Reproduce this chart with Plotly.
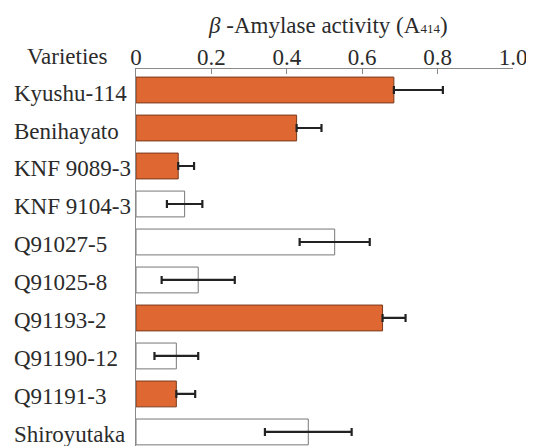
import plotly.graph_objects as go

varieties = ["Kyushu-114", "Benihayato", "KNF 9089-3", "KNF 9104-3", "Q91027-5",
             "Q91025-8", "Q91193-2", "Q91190-12", "Q91191-3", "Shiroyutaka"]
activity = [0.684, 0.426, 0.112, 0.129, 0.527, 0.165, 0.654, 0.107, 0.107, 0.457]
error = [0.130, 0.066, 0.042, 0.047, 0.093, 0.097, 0.061, 0.058, 0.050, 0.115]
filled = [True, True, True, False, False, False, True, False, True, False]
tick_vals = [0, 0.2, 0.4, 0.6, 0.8, 1.0]
tick_text = ["0", "0.2", "0.4", "0.6", "0.8", "1.0"]

ORANGE = "#DF6732"
FONT = "Times New Roman, Liberation Serif, DejaVu Serif, serif"
TXT = "#2b2b2b"

colors = [ORANGE if f else "white" for f in filled]
lines = ["#7a3a1c" if f else "#777777" for f in filled]
err_minus = [0 if f else e for f, e in zip(filled, error)]

fig = go.Figure()
fig.add_trace(go.Bar(
    x=activity, y=varieties, orientation="h", width=0.68,
    marker=dict(color=colors, line=dict(color=lines, width=1)),
    error_x=dict(type="data", array=error, arrayminus=err_minus, symmetric=False,
                 color="#222222", thickness=2.2, width=4),
    showlegend=False,
))

ann = []
for v in varieties:
    ann.append(dict(x=-0.329, xref="paper", y=v, yref="y", text=v, showarrow=False,
                    xanchor="left", yanchor="middle", yshift=-3,
                    font=dict(family=FONT, size=23, color=TXT)))
ann.append(dict(x=-0.295, xref="paper", y=1.0, yref="paper", yshift=13,
                text="Varieties", showarrow=False, xanchor="left", yanchor="middle",
                font=dict(family=FONT, size=23, color=TXT)))
ann.append(dict(x=0.508, xref="paper", y=1.0, yref="paper", yshift=44,
                text="<i>β</i> -Amylase activity (A<span style='font-size:13px'>414</span>)",
                showarrow=False, xanchor="center", yanchor="middle",
                font=dict(family=FONT, size=23, color=TXT)))

fig.update_layout(
    width=534, height=446,
    margin=dict(l=128, r=29, t=61, b=8, autoexpand=False),
    paper_bgcolor="white", plot_bgcolor="white",
    font=dict(family=FONT, size=22, color=TXT),
    annotations=ann,
    xaxis=dict(side="top", range=[0, 1.0], tickvals=tick_vals, ticktext=tick_text,
               showline=True, linecolor="#8a8a8a", linewidth=1,
               ticks="inside", ticklen=5, tickcolor="#8a8a8a",
               ticklabelstandoff=-6,
               showgrid=False, zeroline=False,
               tickfont=dict(family=FONT, size=23, color=TXT)),
    yaxis=dict(categoryorder="array", categoryarray=varieties, range=[9.37, -0.553],
               showticklabels=False, ticks="", showline=True, linecolor="#8a8a8a",
               linewidth=1, showgrid=False, zeroline=False),
)

fig.write_html("out.html")
